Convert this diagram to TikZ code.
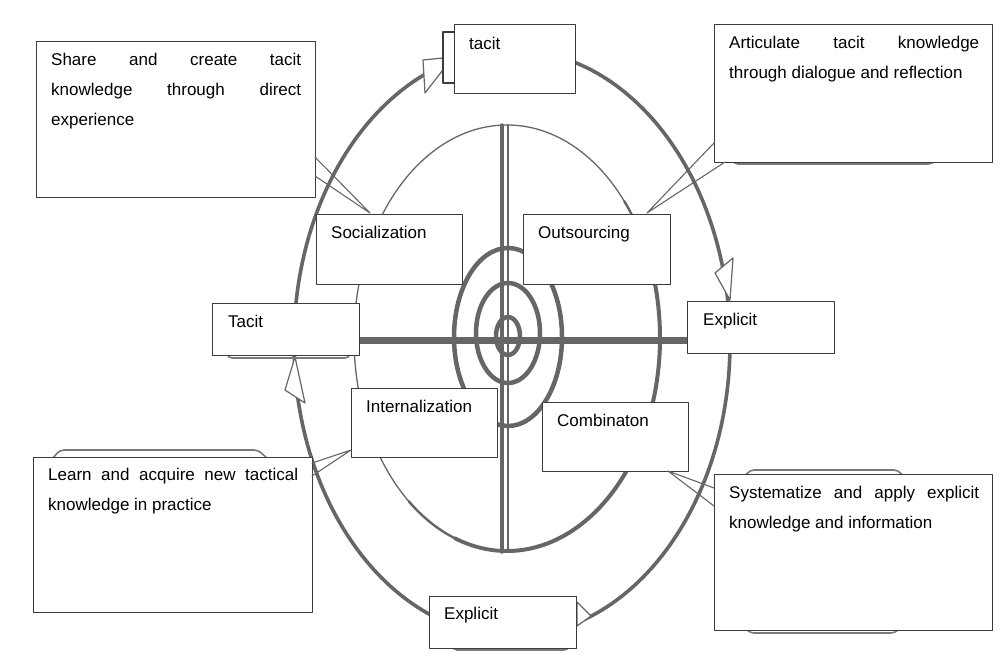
\documentclass[tikz,border=0pt]{standalone}
\usepackage{fontspec}
\setmainfont{Liberation Sans}
\definecolor{ringgray}{HTML}{666666}
\definecolor{boxgray}{HTML}{3C3C3C}
\definecolor{shadegray}{HTML}{7A7A7A}
\begin{document}
\begin{tikzpicture}[x=1pt,y=-1pt,line cap=round,line join=round,
	box/.style={rectangle,draw=boxgray,line width=1.1pt,fill=white,inner sep=0pt,anchor=north west},
	txt/.style={inner sep=0pt,anchor=north west,font=\fontsize{17}{30}\selectfont,execute at begin node=\strut},
	para/.style={txt,text width=250pt,align=justify},
	ring/.style={draw=ringgray,line width=4.5pt},
	loop/.style={draw=ringgray,line width=3.6pt},
	fine/.style={draw=ringgray,line width=1.3pt},
	callout/.style={draw=ringgray,line width=1.1pt},
	openhead/.style={draw=ringgray,fill=white,line width=1.2pt},
	shade/.style={draw=shadegray,line width=1.6pt,rounded corners=4pt}]
	\useasboundingbox[fill=white] (0,0) rectangle (1008,656);
	% outer cycle
	\draw[loop] (512,343) ellipse [x radius=218, y radius=293];
	% inner quadrants
	\draw[fine] (507,125) arc[start angle=-90,end angle=-180,x radius=153,y radius=213];
	\draw[fine] (354,338) arc[start angle=180,end angle=90,x radius=153,y radius=213];
	\draw[ringgray,line width=2.4pt] (408.7,501.2) arc[start angle=130,end angle=90,x radius=153,y radius=213];
	\draw[ringgray,line width=3.8pt] (454.7,538.2) arc[start angle=110,end angle=90,x radius=153,y radius=213];
	\draw[ringgray,line width=4pt] (507,551) arc[start angle=90,end angle=-20,x radius=153,y radius=213];
	\draw[ringgray,line width=2.4pt] (650.8,265.2) arc[start angle=-20,end angle=-40,x radius=153,y radius=213];
	\draw[fine] (660,338) arc[start angle=0,end angle=-90,x radius=153,y radius=213];
	% spiral
	\draw[ring] (508,336) ellipse [x radius=12, y radius=19];
	\draw[ring] (508,333) ellipse [x radius=32, y radius=50];
	\draw[ring] (508,337) ellipse [x radius=54, y radius=89];
	% centre cross
	\draw[ringgray,line width=3.5pt] (502,125) -- (502,552);
	\draw[ringgray,line width=1.4pt] (508,125) -- (508,552);
	% open arrow heads on the cycle
	\draw[openhead] (423,60) -- (453,57) -- (425,93) -- cycle;
	\draw[openhead] (715,273) -- (733,258) -- (730,300) -- cycle;
	\draw[openhead] (577,602) -- (591,616) -- (577,626) -- cycle;
	\draw[openhead] (285,390) -- (295,357) -- (305,403) -- cycle;
	% scan shadows
	\draw[shade] (732,160) -- (734,164) -- (932,164) -- (936,160);
	\draw[shade] (745,476) -- (750,470) -- (898,470) -- (903,476);
	\draw[shade] (745,628) -- (750,633) -- (895,633) -- (900,628);
	\draw[shade] (52,459) -- (60,450) -- (258,450) -- (268,459);
	\draw[shade] (227,354) -- (228,358) -- (349,358) -- (350,354);
	\draw[shade] (452,646) -- (453,650) -- (568,650) -- (570,646);
	% boxes
	\node[box,minimum width=279pt,minimum height=156pt] (share) at (36,41) {};
	\node[box,minimum width=121pt,minimum height=69pt] (tacitTop) at (454,24) {};
	\node[box,minimum width=278pt,minimum height=138pt] (artic) at (714,24) {};
	\node[box,minimum width=146pt,minimum height=70pt] (social) at (316,214) {};
	\node[box,minimum width=147pt,minimum height=70pt] (outsrc) at (523,214) {};
	\node[box,minimum width=147pt,minimum height=52pt] (tacitL) at (212,303) {};
	\node[box,minimum width=147pt,minimum height=52pt] (explR) at (687,301) {};
	\node[box,minimum width=146pt,minimum height=69pt] (intern) at (351,388) {};
	\node[box,minimum width=146pt,minimum height=69pt] (combin) at (542,402) {};
	\node[box,minimum width=279pt,minimum height=155pt] (learn) at (33,457) {};
	\node[box,minimum width=278pt,minimum height=156pt] (system) at (714,474) {};
	\node[box,minimum width=147pt,minimum height=52pt] (explB) at (429,596) {};
	\filldraw[fill=white,draw=boxgray,line width=1.1pt] (tacitTop.north west) ++(0pt,-8pt) -- ++(-11pt,0pt) -- ++(0pt,-51pt) -- ++(11pt,0pt);
	% horizontal bar
	\coordinate (barY) at (0,340);
	\draw[ringgray,line width=7pt,line cap=butt] (tacitL.east |- barY) -- (explR.west |- barY);
	% callouts
	\coordinate (socTip) at (370,213);
	\coordinate (shareA) at (315,157);
	\coordinate (shareB) at (315,176);
	\draw[callout] (shareA) -- (socTip) -- (shareB);
	\coordinate (outTip) at (647,213);
	\coordinate (articA) at (714,143);
	\coordinate (articB) at (725,162);
	\draw[callout] (articA) -- (outTip) -- (articB);
	\coordinate (comTip) at (668,471);
	\coordinate (systemA) at (714,488);
	\coordinate (systemB) at (714,506);
	\draw[callout] (systemA) -- (comTip) -- (systemB);
	\coordinate (intTip) at (351,450);
	\coordinate (learnA) at (312,463);
	\coordinate (learnB) at (312,476);
	\draw[callout] (learnA) -- (intTip) -- (learnB);
	% texts
	\node[para] (share-t) at ([shift={(15pt,-3pt)}]share.north west) {Share and create tacit\linebreak knowledge through direct\linebreak experience};
	\node[txt] (tacitTop-t) at ([shift={(15pt,-4pt)}]tacitTop.north west) {tacit};
	\node[para] (artic-t) at ([shift={(15pt,-3pt)}]artic.north west) {Articulate tacit knowledge\linebreak through dialogue and reflection};
	\node[txt] (social-t) at ([shift={(15pt,-3pt)}]social.north west) {Socialization};
	\node[txt] (outsrc-t) at ([shift={(15pt,-3pt)}]outsrc.north west) {Outsourcing};
	\node[txt] (tacitL-t) at ([shift={(16pt,-3pt)}]tacitL.north west) {Tacit};
	\node[txt] (explR-t) at ([shift={(16pt,-3pt)}]explR.north west) {Explicit};
	\node[txt] (intern-t) at ([shift={(15pt,-3pt)}]intern.north west) {Internalization};
	\node[txt] (combin-t) at ([shift={(15pt,-3pt)}]combin.north west) {Combinaton};
	\node[para] (learn-t) at ([shift={(15pt,-2pt)}]learn.north west) {Learn and acquire new tactical\linebreak knowledge in practice};
	\node[para] (system-t) at ([shift={(15pt,-3pt)}]system.north west) {Systematize and apply explicit\linebreak knowledge and information};
	\node[txt] (explB-t) at ([shift={(15pt,-2pt)}]explB.north west) {Explicit};
\end{tikzpicture}
\end{document}
